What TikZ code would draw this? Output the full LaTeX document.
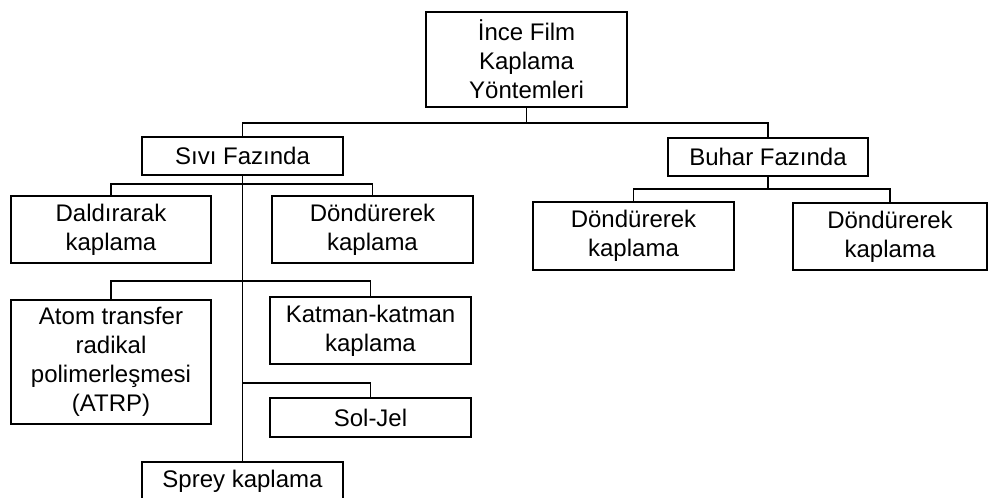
\documentclass[tikz,border=0pt]{standalone}
\usepackage{fontspec}
\setmainfont{Liberation Sans}
\usepackage{tikz}
\usetikzlibrary{positioning}

\begin{document}
\begin{tikzpicture}[x=1pt,y=-1pt,
    box/.style={draw,line width=1.4pt,inner sep=0pt,outer sep=0pt,align=center,
        minimum width=201pt,minimum height=38pt,font=\fontsize{24}{29}\selectfont},
    link/.style={line width=1.4pt}]
    \useasboundingbox (0,0) rectangle (988,498);

    % Root
    \node[box,minimum height=95pt] (root) at (526.5,59.5) {İnce Film\\Kaplama\\Yöntemleri};

    % Two phases
    \node[box] (sivi) at (242.5,156) {Sıvı Fazında};
    \node[box,minimum width=200pt] (buhar) at (768,157) {Buhar Fazında};

    % Liquid phase methods
    \node[box,minimum width=200pt,minimum height=67pt] (daldir) at (111,229.5) {Daldırarak\\kaplama};
    \node[box,minimum height=67pt] (dondurS) at (372.5,229.5) {Döndürerek\\kaplama};
    \node[box,minimum width=200pt,minimum height=124pt] (atrp) at (111,362) {Atom transfer\\radikal\\polimerleşmesi\\(ATRP)};
    \node[box,minimum height=67pt] (katman) at (370.5,330.5) {Katman-katman\\kaplama};
    \node[box,minimum height=39pt] (soljel) at (370.5,417.5) {Sol-Jel};
    \node[box] (sprey) at (242.5,481) {Sprey kaplama};

    % Vapour phase methods
    \node[box,minimum height=68pt] (dondurB) at (633.5,236) {Döndürerek\\kaplama};
    \node[box,minimum width=194pt,minimum height=67pt] (dondurC) at (890,236.5) {Döndürerek\\kaplama};

    % Junction points
    \coordinate (j0) at (526.5,123);
    \coordinate (j1) at (242.5,184);
    \coordinate (j2) at (242.5,281);
    \coordinate (j3) at (242.5,383);
    \coordinate (j4) at (768,189);

    % Connectors
    \draw[link] (root) -- (j0);
    \draw[link] (j0) -| (sivi);
    \draw[link] (j0) -| (buhar);
    \draw[link] (sivi) -- (sprey);
    \draw[link] (j1) -| (daldir);
    \draw[link] (j1) -| (dondurS);
    \draw[link] (j2) -| (atrp);
    \draw[link] (j2) -| (katman);
    \draw[link] (j3) -| (soljel);
    \draw[link] (buhar) -- (j4);
    \draw[link] (j4) -| (dondurB);
    \draw[link] (j4) -| (dondurC);
\end{tikzpicture}
\end{document}
